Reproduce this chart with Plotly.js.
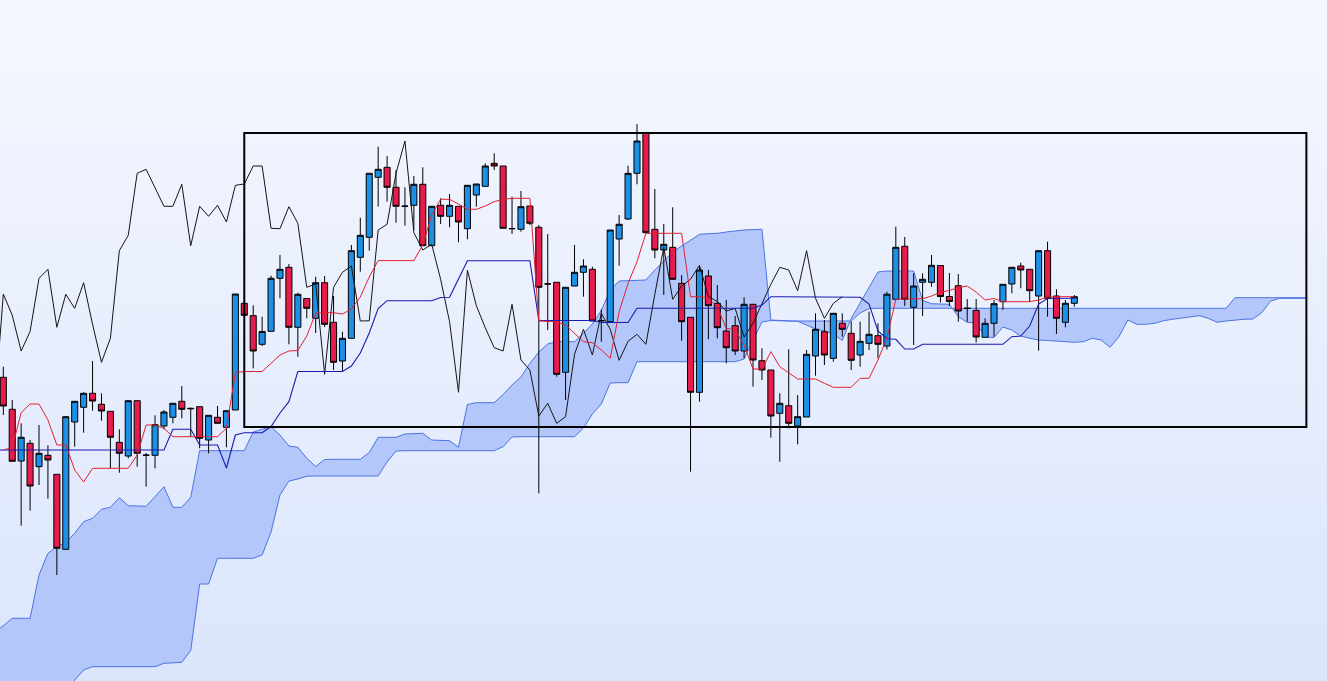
<!DOCTYPE html>
<html>
<head>
<meta charset="utf-8">
<script src="https://cdn.plot.ly/plotly-3.0.1.min.js"></script>
<style>
  html, body { margin: 0; padding: 0; width: 1327px; height: 681px; overflow: hidden;
    background: linear-gradient(180deg, #f6f8ff 0%, #e9effd 45%, #dbe5fc 100%); }
  #chart { width: 1327px; height: 681px; }
</style>
</head>
<body>
<div id="chart"></div>
<script>
// ---- Candles (period index 0..120) ----
const open = [132.27,129.07,123.9,125.67,123.33,124.47,122.57,115.07,127.8,129.27,
130.67,129.57,128.87,125.77,124.4,129.93,124.5,124.47,127.4,128.27,
129.87,129.17,129.33,126,128.27,127.27,129,139.67,138.43,135.57,
136.87,142.17,143.27,137.27,140.15,138.17,141.73,137.77,133.9,136.17,
144.27,146.27,152.27,153.27,151.27,149.4,149.47,151.57,145.43,149.47,
148.37,149.37,147.13,150.5,151.37,153.67,153.4,147.15,147.07,149.4,
147.27,141.62,141.77,132.77,141.4,142.77,143.07,137.95,137.83,146.1,
148.1,152.67,156.67,147.07,145,145.27,141.67,138.27,130.77,142.4,
139.67,136.9,137.43,134.9,139.57,133.93,133,128.67,129.43,127.4,
128.3,134.4,136.83,134.17,137.67,136.67,134.5,135.67,136.43,135.4,
140.07,145.37,139.27,141.77,141.77,143.45,140.35,141.43,139.18,138.95,
136.27,137.67,139.83,141.6,143.4,143.07,140.4,144.93,140.4,137.77,
139.67];
const high = [133.33,130,127.67,126,127.5,125.47,122.57,128.4,129.87,130.77,
133.9,130.67,128.87,127.07,129.93,129.93,124.7,128.47,129,129.67,
131.4,129.25,129.33,128.47,129.4,128.93,140.6,139.7,139.47,138.33,
142.43,144.5,143.6,140.73,140.15,142.33,142.4,140.4,136.83,145.5,
148.23,152.67,155.33,154.4,153,151.27,152.4,153.27,149.37,150.17,
150.6,149.37,151.47,151.6,153.67,154.67,153.4,150.33,150.9,149.4,
147.5,146.6,141.77,141.27,145.5,144.07,143.33,139.07,147,148.5,
153.43,157.6,156.7,151.1,147.6,149.27,142.5,138.27,143.33,143,
141.5,140,138.4,140.27,139.57,135.17,133,130.67,135.07,130.5,
135,138.67,138,138.67,138.67,137.83,137.83,138.83,137.67,140.83,
147.33,146.3,142.67,142.67,144.5,143.45,142.7,142.6,140.1,140.1,
138.17,140,141.57,143.27,143.73,143.07,144.93,145.83,141.07,140,
140.5];
const low = [128.5,123.87,117.43,118.93,121.5,120.13,112.5,115.07,125.33,126.73,
128.93,127.93,123.17,122.73,124.17,123.33,121.33,123.17,127.07,127.67,
128.17,126.33,125.17,124.67,127.67,125.27,129,138.45,133.17,135.4,
136.87,140.17,135.57,134.33,138.17,136.7,137.3,133,132.9,136.17,
142.83,144.93,149.33,149.83,147.73,147.43,147,145.43,145.43,147.6,
147.27,145.77,146.07,149.33,151.37,153,147.17,146.6,146.83,147.5,
120.67,137,132.33,130,141.4,140.33,137.9,135.83,137.83,143.43,
148,151.57,146.73,144.17,140.5,142.07,135.93,122.83,129.83,136.07,
136.17,133.67,134.5,134.17,131.33,132,126.23,123.83,127.17,125.57,
128.3,132.43,133.5,133.83,136.33,133,133.33,135,134.17,135.05,
140.07,139.4,135.5,138.4,141.33,139.75,139.4,137.83,137.83,135.75,
136.27,136.33,139,140.67,141.17,139.83,134.93,138.33,136.6,137.27,
139.33];
const close = [129.4,123.87,126.27,121.4,124.67,124,115.17,128.33,129.87,130.67,
129.9,128.9,126.27,124.67,129.93,124.67,124.47,127.53,128.8,129.67,
129.07,129.13,126.17,128.47,127.67,128.93,140.6,138.47,134.9,136.85,
142.17,143.07,137.27,140.57,139.17,141.73,137.57,133.77,136.17,144.93,
146.47,152.67,153.07,151.27,149.37,149.37,151.57,145.43,149.37,148.37,
149.47,147.8,151.47,151.6,153.4,153.4,147.17,147.13,149.33,147.67,
141.27,141.6,132.57,141.27,142.77,143.4,137.9,137.92,147,147.57,
152.67,155.9,146.73,145,145.57,142.07,137.83,130.77,143,139.43,
137.23,135.23,134.9,139.57,134,133,128.4,129.67,127.67,128.33,
134.57,137.07,134.5,138.67,137.07,133.97,135.87,136.57,135.57,140.58,
145.27,140.07,141.4,142.07,143.47,140.35,139.85,138.9,139.16,136.3,
137.67,139.63,141.57,143.27,143,140.93,144.93,140.17,138.17,139.67,
140.33];

// ---- Tenkan-sen (conversion line), periods 0..120 ----
const tenkan = [125,125.25,128.73,129.6,129.6,128,125.5,125.5,123,121.8,
123.17,123.17,123.17,123.17,123.17,124.5,127.5,127.5,127.17,126.33,
126.33,126.33,126.33,126.33,126.33,127.17,132.73,132.85,132.85,132.85,
133.67,134.5,134.9,134.95,136.4,138.7,138.73,138.73,138.6,139.1,
140.3,142.3,143.94,143.94,143.94,143.94,143.94,145.5,148.5,150.07,
150.07,149.6,149.07,149.07,149.4,149.83,150.07,150.17,150.17,150.17,
137.9,137.83,137.83,137.5,136.67,135.83,135.73,135,134.17,138.83,
141.67,143.83,146.67,146.67,146.67,146.67,146.67,140.33,140.33,140.17,
139.33,137.17,137,135.5,133.1,133.1,134.83,133.33,132.67,132.1,
132.1,132.1,131.67,131.27,131.27,131.27,132.17,132.17,134,136.2,
140.07,140.12,140.12,140.12,140.4,140.77,140.95,141.25,141.4,140.8,
140,140.15,139.83,139.83,139.83,139.83,140,140.3,140.33,140.33,
140.33];

// ---- Kijun-sen (base line), periods -1..120 ----
const kijun = [125,125,125,125,125,125,125,125,125,125,
125,125,125,125,125,125,125,125,125,125,
127.07,127.07,127.07,125.5,125.5,125.5,123.2,126.5,126.73,126.73,126.73,
127.35,128.7,129.83,132.85,132.85,132.85,132.85,132.85,132.85,133.4,
134.7,136.7,139.15,139.93,139.93,139.93,139.93,139.93,139.93,140.25,
140.27,142.1,143.93,143.93,143.93,143.93,143.93,143.93,143.93,143.93,
137.95,137.95,137.95,137.95,137.95,137.95,137.95,137.75,137.75,137.75,137.75,
139.17,139.17,139.17,139.17,139.17,139.17,139.17,139.17,139.17,139.17,139.17,139.17,139.17,139.17,139.5,
140.33,140.33,140.33,140.33,140.33,140.33,140.33,140.33,140.33,140.33,
140.27,139.6,136.9,136.13,136.07,135.1,135.1,
135.57,135.57,135.57,135.57,135.57,135.57,135.57,135.57,135.57,135.57,
136.33,136.4,137.4,139.6,140.15,140.17,140.17,140.17];

// ---- Senkou span A and B (cloud, plotted 26 periods ahead), periods -1..146 ----
const senkouA = [106.7,107.43,108.17,108.17,108.17,112.5,114.67,115.33,115.77,116.67,117.83,
118.17,119.07,119.27,120.23,119.43,119.4,119.37,120.33,121.33,119.27,
119.27,120.27,124.93,124.93,124.93,124.93,124.93,124.93,126.8,127.1,
127.33,126.5,125.4,125.27,124.17,123.35,124.05,124.07,124.07,124.07,
124.07,124.75,126.27,126.27,126.27,126.6,126.65,126.67,126,125.93,
125.93,125.27,129.55,129.73,129.73,129.73,130.55,131.5,132.3,133.65,
134.8,135.6,135.83,135.83,135.83,136.67,137.6,138.95,141,141.9,
141.93,141.97,142,143,143.9,144.8,145.4,146,146.57,146.63,
146.67,146.8,146.92,147,147.04,147.07,138,137.97,137.93,137.87,
137.5,137.1,136.9,136.6,135.95,138.15,139.7,141.3,142.8,142.9,
142.9,142.9,142.9,139.95,139.63,139.6,139.57,138.33,137.77,137.7,
136.3,136.25,137.3,137,136.4,136.17,136,135.95,135.9,135.83,
135.77,135.83,136.17,136,135.27,136.33,138,137.57,137.57,137.67,
137.93,138.07,138.17,138.33,138.43,138.17,137.77,137.9,138,138.07,
138.1,138.73,139.9,140.17,140.17,140.17,140.17];
const senkouB = [100,100,100,100,100,100,100,100,
101,102,103,103.33,103.33,103.33,103.33,103.33,103.33,103.33,103.33,
103.67,103.7,103.77,104.95,111.6,111.6,114.17,114.17,114.17,114.17,114.17,
114.5,116.8,120.5,121.9,122.1,122.37,
122.4,122.4,122.4,122.4,122.4,122.4,122.4,122.4,
123.8,124.9,
124.93,124.93,124.93,124.93,124.93,124.93,124.93,124.93,124.93,124.93,124.93,
125.33,126.3,126.33,126.33,126.33,126.33,126.33,126.33,126.33,
127.2,128.6,129.6,131.7,131.73,131.73,
133.83,133.83,133.83,133.83,133.83,133.83,133.83,133.83,133.83,133.83,133.83,133.83,
134.1,136,137.8,137.95,
137.9,137.9,137.9,137.9,137.9,137.9,137.9,137.9,137.9,
138.7,139.15,
139.17,139.17,139.17,139.17,139.17,139.17,139.17,139.17,139.17,139.17,
139.17,139.17,139.17,139.17,139.17,139.17,139.17,139.17,139.17,139.17,
139.17,139.17,139.17,139.17,139.17,139.17,139.17,139.17,139.17,139.17,
139.17,139.17,139.17,139.17,139.17,139.17,139.17,139.17,139.17,139.17,
140.23,140.23,140.23,140.23,140.23,140.23,140.23,140.23,140.23];

// highlighted range box (period and price bounds)
const boxPeriods = [27, 146];
const boxPrices = [127.3, 156.7];

const SHIFT = 26;
const xC = close.map((_, i) => i);
const xT = tenkan.map((_, i) => i);
const xK = kijun.map((_, i) => i - 1);
const xA = senkouA.map((_, i) => i - 1);
const xB = senkouB.map((_, i) => i - 1);
const xCh = close.map((_, i) => i - SHIFT);   // chikou span = close plotted 26 back

const cloudEdge = '#4d73e2';
const traces = [
  // layer 1: cloud
  { type: 'scatter', mode: 'lines', x: xA, y: senkouA, line: { color: cloudEdge, width: 1 }, hoverinfo: 'skip' },
  { type: 'scatter', mode: 'lines', x: xB, y: senkouB, line: { color: cloudEdge, width: 1 }, fill: 'tonexty', fillcolor: '#b3c7fb', hoverinfo: 'skip' },
  // layer 2: candles
  { type: 'candlestick', x: xC, open: open, high: high, low: low, close: close, xaxis: 'x2', yaxis: 'y2',
    increasing: { line: { color: '#000000', width: 1 }, fillcolor: '#1b90e6' },
    decreasing: { line: { color: '#000000', width: 1 }, fillcolor: '#e61c4c' },
    whiskerwidth: 0, hoverinfo: 'skip' },
  // layer 3: indicator lines
  { type: 'scatter', mode: 'lines', x: xCh, y: close, xaxis: 'x3', yaxis: 'y3', line: { color: '#151515', width: 1 }, hoverinfo: 'skip' },
  { type: 'scatter', mode: 'lines', x: xK, y: kijun, xaxis: 'x3', yaxis: 'y3', line: { color: '#1a1ab0', width: 1.1 }, hoverinfo: 'skip' },
  { type: 'scatter', mode: 'lines', x: xT, y: tenkan, xaxis: 'x3', yaxis: 'y3', line: { color: '#e52030', width: 1 }, hoverinfo: 'skip' }
];

const xr = [-0.37, 148.31];
const yr = [101.9, 170];
const axX = { range: xr, visible: false, showgrid: false, zeroline: false, fixedrange: true, rangeslider: { visible: false } };
const axY = { range: yr, visible: false, showgrid: false, zeroline: false, fixedrange: true };

const layout = {
  width: 1327, height: 681,
  margin: { l: 0, r: 0, t: 0, b: 0, pad: 0 },
  paper_bgcolor: 'rgba(0,0,0,0)', plot_bgcolor: 'rgba(0,0,0,0)',
  showlegend: false, hovermode: false, boxgap: 0.32, boxgroupgap: 0,
  xaxis: Object.assign({}, axX),
  yaxis: Object.assign({}, axY),
  xaxis2: Object.assign({}, axX, { overlaying: 'x' }),
  yaxis2: Object.assign({}, axY, { overlaying: 'y' }),
  xaxis3: Object.assign({}, axX, { overlaying: 'x' }),
  yaxis3: Object.assign({}, axY, { overlaying: 'y' }),
  shapes: [{ type: 'rect', xref: 'x', yref: 'y', layer: 'above',
    x0: boxPeriods[0], x1: boxPeriods[1], y0: boxPrices[0], y1: boxPrices[1],
    line: { color: '#000000', width: 2 }, fillcolor: 'rgba(0,0,0,0)' }]
};

Plotly.newPlot('chart', traces, layout, { displayModeBar: false, staticPlot: true });
</script>
</body>
</html>
